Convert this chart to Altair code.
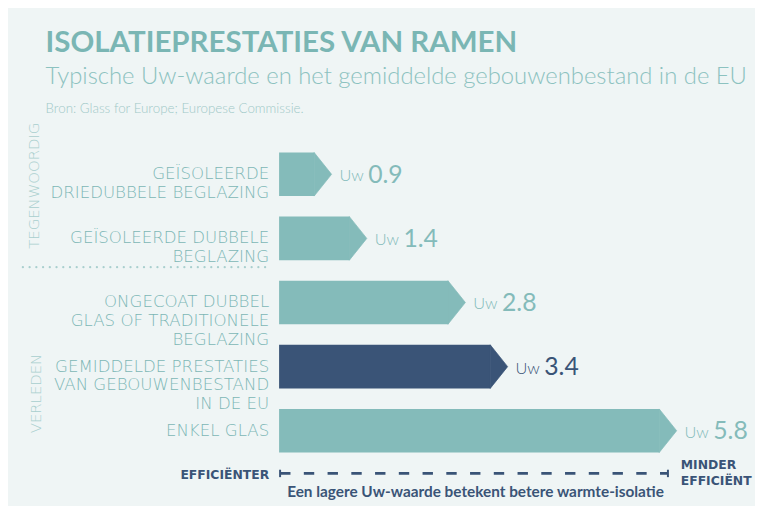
import altair as alt
import pandas as pd

# ---- data ----
categories = [
    "Geïsoleerde driedubbele beglazing",
    "Geïsoleerde dubbele beglazing",
    "Ongecoat dubbel glas of traditionele beglazing",
    "Gemiddelde prestaties van gebouwenbestand in de EU",
    "Enkel glas",
]
labels = [
    "GEÏSOLEERDE\nDRIEDUBBELE BEGLAZING",
    "GEÏSOLEERDE DUBBELE\nBEGLAZING",
    "ONGECOAT DUBBEL\nGLAS OF TRADITIONELE\nBEGLAZING",
    "GEMIDDELDE PRESTATIES\nVAN GEBOUWENBESTAND\nIN DE EU",
    "ENKEL GLAS",
]
values = [0.9, 1.4, 2.8, 3.4, 5.8]
kinds = ["type", "type", "type", "gemiddelde", "type"]
group_labels = ["TEGENWOORDIG", "VERLEDEN"]

title_text = "ISOLATIEPRESTATIES VAN RAMEN"
subtitle_text = "Typische Uw-waarde en het gemiddelde gebouwenbestand in de EU"
source_text = "Bron: Glass for Europe; Europese Commissie."
left_axis_text = "EFFICIËNTER"
right_axis_text = "MINDER\nEFFICIËNT"
axis_caption = "Een lagere Uw-waarde betekent betere warmte-isolatie"

# ---- style ----
BG = "#EFF5F5"
TEAL = "#84BBBA"
DARK = "#3A5477"
LABEL_TEAL = "#7DB7B6"
LIGHT_TEAL = "#A9CFCE"

W, H = 484, 324

df = pd.DataFrame({"cat": categories, "label": labels, "value": values, "kind": kinds})

xs = alt.Scale(domain=[0, 6.8], nice=False, zero=True)
ys = alt.Scale(domain=categories, paddingInner=0.32, paddingOuter=0.16)
cs = alt.Scale(domain=["type", "gemiddelde"], range=[TEAL, DARK])

base = alt.Chart(df)
X = alt.X("value:Q", scale=xs, axis=None)
Y = alt.Y("cat:N", scale=ys, axis=None, sort=categories)
C = alt.Color("kind:N", scale=cs, legend=None)

bars = base.mark_bar(xOffset=-17.2, x2Offset=11).encode(
    x=X, x2=alt.datum(0), y=Y, color=C,
)
heads = base.mark_point(
    shape="M-0.8,-1L0,0L-0.8,1Z", size=1936, filled=True, opacity=1, strokeWidth=0.7
).encode(
    x=X, y=Y, color=C, stroke=alt.Stroke("kind:N", scale=cs, legend=None),
)
cat_text = base.mark_text(
    align="right", baseline="middle", lineBreak="\n", lineHeight=18.9,
    font="DejaVu Sans", fontSize=16.8, fontWeight=200, color=LABEL_TEAL,
).encode(x=alt.value(1), y=Y, text="label:N")

uw_text = base.mark_text(
    align="left", baseline="alphabetic", dx=8, dy=7, font="Lato", fontSize=16.5,
    fontWeight=300,
).encode(x=X, y=Y, text=alt.value("Uw"), color=C)
num_text = base.mark_text(
    align="left", baseline="alphabetic", dx=37, dy=8.5, font="Lato", fontSize=25,
    fontWeight="normal",
).encode(x=X, y=Y, text=alt.Text("value:Q", format=".1f"), color=C)


def note(text, x, y, **kw):
    return alt.Chart(pd.DataFrame({"t": [text]})).mark_text(**kw).encode(
        x=alt.value(x), y=alt.value(y), text="t:N"
    )


title = note(title_text, -225, -91, align="left", baseline="alphabetic",
             font="Lato", fontSize=29.8, fontWeight="bold", color="#7AB6B4")
subtitle = note(subtitle_text, -225, -59, align="left", baseline="alphabetic",
                font="Lato", fontSize=24.1, fontWeight=300, color="#8CC2C0")
source = note(source_text, -225, -30, align="left", baseline="alphabetic",
              font="Lato", fontSize=13.5, fontWeight=300, color="#9FC9C8")
g1 = note(group_labels[0], -237, 44, align="center", baseline="middle", angle=270,
          font="DejaVu Sans", fontSize=15, fontWeight=200, color=LIGHT_TEAL)
g2 = note(group_labels[1], -235, 254, align="center", baseline="middle", angle=270,
          font="DejaVu Sans", fontSize=15, fontWeight=200, color=LIGHT_TEAL)
left_lbl = note(left_axis_text, 1, 340, align="right", baseline="alphabetic",
                font="DejaVu Sans", fontSize=12.5, fontWeight="bold", color=DARK)
right_lbl = note(right_axis_text, 417, 330.7, align="left", baseline="alphabetic",
                 lineBreak="\n", lineHeight=15.6,
                 font="DejaVu Sans", fontSize=12.5, fontWeight="bold", color=DARK)
caption = note(axis_caption, 209.5, 359, align="center", baseline="alphabetic",
               font="Lato", fontSize=15.5, fontWeight="bold", color=DARK)

one = pd.DataFrame({"a": [0]})
dots = alt.Chart(one).mark_rule(
    strokeDash=[0.1, 6.7], strokeCap="round", strokeWidth=2.2, color=LIGHT_TEAL
).encode(x=alt.value(-248), x2=alt.value(1), y=alt.value(126.3))
dash_axis = alt.Chart(one).mark_rule(
    strokeDash=[10.5, 13.5], strokeWidth=2.6, color=DARK
).encode(x=alt.value(12), x2=alt.value(404), y=alt.value(334.7))
tick_l = alt.Chart(one).mark_rule(strokeWidth=2, color=DARK).encode(
    x=alt.value(12), y=alt.value(331), y2=alt.value(338.5))
tick_r = alt.Chart(one).mark_rule(strokeWidth=2, color=DARK).encode(
    x=alt.value(404), y=alt.value(331), y2=alt.value(338.5))

chart = alt.layer(
    bars, heads, cat_text, uw_text, num_text,
    title, subtitle, source, g1, g2, dots, dash_axis, tick_l, tick_r,
    left_lbl, right_lbl, caption,
).properties(
    width=W, height=H,
    autosize=alt.AutoSizeParams(type="none"),
    padding={"left": 263, "top": 133, "right": 8, "bottom": 41},
    background=BG,
).configure_view(stroke=None)

chart.save("out.html", embed_options={"renderer": "svg", "actions": False})
